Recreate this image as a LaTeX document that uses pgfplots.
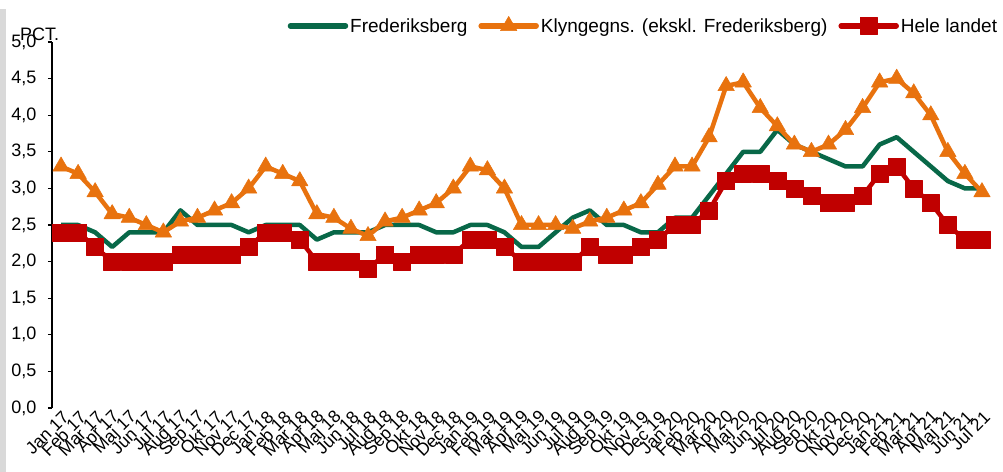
\documentclass[border=0pt]{standalone}
\usepackage{pgfplots}
\pgfplotsset{compat=1.18}
\usepackage{fontspec}
\setmainfont{Liberation Sans}
\definecolor{cgreen}{RGB}{8,104,72}
\definecolor{corange}{RGB}{232,114,14}
\definecolor{cred}{RGB}{192,0,0}
\begin{document}
\begin{tikzpicture}
\path[use as bounding box, fill=white] (0,0) rectangle (1003bp,472bp);
\fill[black!15] (0,0) rectangle (6bp,463bp);
\begin{axis}[
  at={(52bp,64bp)}, anchor=south west,
  scale only axis, width=939bp, height=366bp,
  xmin=-0.53, xmax=54.53, ymin=0, ymax=5,
  axis lines*=left, axis line style={-, line width=1.3bp},
  x axis line style={draw=none},
  xtick={0,...,54},
  xticklabels={Jan 17,Feb 17,Mar 17,Apr 17,Maj 17,Jun 17,Jul 17,Aug 17,Sep 17,Okt 17,Nov 17,Dec 17,
    Jan 18,Feb 18,Mar 18,Apr 18,Maj 18,Jun 18,Jul 18,Aug 18,Sep 18,Okt 18,Nov 18,Dec 18,
    Jan 19,Feb 19,Mar 19,Apr 19,Maj 19,Jun 19,Jul 19,Aug 19,Sep 19,Okt 19,Nov 19,Dec 19,
    Jan 20,Feb 20,Mar 20,Apr 20,Maj 20,Jun 20,Jul 20,Aug 20,Sep 20,Okt 20,Nov 20,Dec 20,
    Jan 21,Feb 21,Mar 21,Apr 21,Maj 21,Jun 21,Jul 21},
  x tick style={draw=none},
  xticklabel style={rotate=45, anchor=east, inner sep=1bp, yshift=-8bp, font=\fontsize{17.5bp}{19bp}\selectfont},
  ytick={0,0.5,...,5},
  y tick style={line width=1.3bp, black},
  ytick align=outside, major tick length=4bp,
  yticklabel style={font=\fontsize{18bp}{20bp}\selectfont, xshift=-8bp},
  /pgf/number format/.cd, use comma, fixed, fixed zerofill, precision=1, assume math mode=true,
  /pgfplots/.cd,
  legend columns=3,
  legend style={draw=none, fill=none, at={(1.012,1.044)}, anchor=east,
    font=\fontsize{19bp}{21bp}\selectfont,
    nodes={inner sep=2bp},
    /tikz/every even column/.append style={column sep=9bp}},
  legend image code/.code={\draw[mark repeat=2,mark phase=2,line cap=round,line width=5.5bp,#1] plot coordinates {(0bp,0bp) (27.5bp,0bp) (55bp,0bp)};},
  clip=false,
]
\addplot[cgreen, line width=4.5bp, line join=round, no marks] coordinates {
(0,2.5)(1,2.5)(2,2.4)(3,2.2)(4,2.4)(5,2.4)(6,2.4)(7,2.7)(8,2.5)(9,2.5)(10,2.5)(11,2.4)
(12,2.5)(13,2.5)(14,2.5)(15,2.3)(16,2.4)(17,2.4)(18,2.4)(19,2.5)(20,2.5)(21,2.5)(22,2.4)(23,2.4)
(24,2.5)(25,2.5)(26,2.4)(27,2.2)(28,2.2)(29,2.4)(30,2.6)(31,2.7)(32,2.5)(33,2.5)(34,2.4)(35,2.4)
(36,2.6)(37,2.6)(38,2.9)(39,3.2)(40,3.5)(41,3.5)(42,3.8)(43,3.6)(44,3.5)(45,3.4)(46,3.3)(47,3.3)
(48,3.6)(49,3.7)(50,3.5)(51,3.3)(52,3.1)(53,3.0)(54,3.0)};
\addlegendentry{Frederiksberg}
\addplot[corange, line width=4.5bp, line join=round, mark=triangle*, mark size=9.5bp, mark options={line width=0.5bp}] coordinates {
(0,3.3)(1,3.2)(2,2.95)(3,2.65)(4,2.6)(5,2.5)(6,2.4)(7,2.55)(8,2.6)(9,2.7)(10,2.8)(11,3.0)
(12,3.3)(13,3.2)(14,3.1)(15,2.65)(16,2.6)(17,2.45)(18,2.35)(19,2.55)(20,2.6)(21,2.7)(22,2.8)(23,3.0)
(24,3.3)(25,3.25)(26,3.0)(27,2.5)(28,2.5)(29,2.5)(30,2.45)(31,2.55)(32,2.6)(33,2.7)(34,2.8)(35,3.05)
(36,3.3)(37,3.3)(38,3.7)(39,4.4)(40,4.45)(41,4.1)(42,3.85)(43,3.6)(44,3.5)(45,3.6)(46,3.8)(47,4.1)
(48,4.45)(49,4.5)(50,4.3)(51,4.0)(52,3.5)(53,3.2)(54,2.95)};
\addlegendentry{Klyngegns. (ekskl. Frederiksberg)}
\addplot[cred, line width=4.5bp, line join=round, mark=square*, mark size=8.5bp, mark options={line width=0.5bp}] coordinates {
(0,2.4)(1,2.4)(2,2.2)(3,2.0)(4,2.0)(5,2.0)(6,2.0)(7,2.1)(8,2.1)(9,2.1)(10,2.1)(11,2.2)
(12,2.4)(13,2.4)(14,2.3)(15,2.0)(16,2.0)(17,2.0)(18,1.9)(19,2.1)(20,2.0)(21,2.1)(22,2.1)(23,2.1)
(24,2.3)(25,2.3)(26,2.2)(27,2.0)(28,2.0)(29,2.0)(30,2.0)(31,2.2)(32,2.1)(33,2.1)(34,2.2)(35,2.3)
(36,2.5)(37,2.5)(38,2.7)(39,3.1)(40,3.2)(41,3.2)(42,3.1)(43,3.0)(44,2.9)(45,2.8)(46,2.8)(47,2.9)
(48,3.2)(49,3.3)(50,3.0)(51,2.8)(52,2.5)(53,2.3)(54,2.3)};
\addlegendentry{Hele landet}
\end{axis}
\node[anchor=base west, inner sep=0pt, font=\fontsize{18bp}{20bp}\selectfont] at (20bp,431bp) {PCT.};
\end{tikzpicture}
\end{document}
